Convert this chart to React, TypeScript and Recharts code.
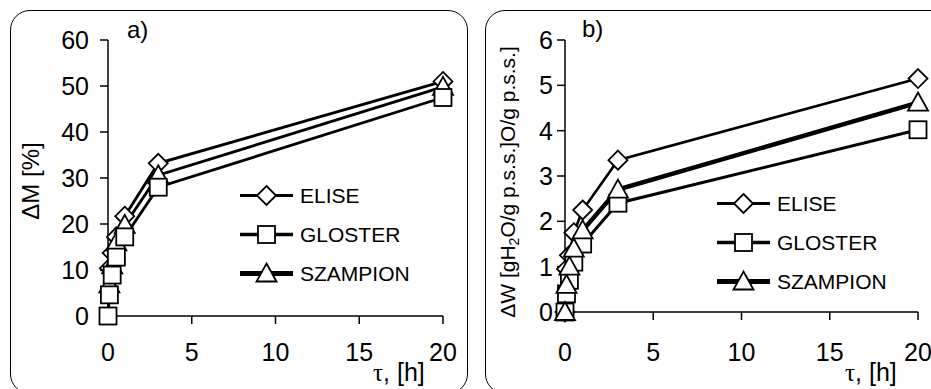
import React from "react";
import { LineChart, Line, XAxis, YAxis, Legend } from "recharts";

// sampling times [h]
const TIME = [0, 0.083, 0.25, 0.5, 1, 3, 20];

// a) mass change dM [%]
const ELISE_A = [null, 10.4, 13.7, 17.2, 21.7, 33.2, 51.0];
const GLOSTER_A = [0, 4.6, 8.9, 12.8, 17.2, 28.0, 47.5];
const SZAMPION_A = [null, 6.9, 11.0, 16.0, 19.8, 30.6, 49.8];

// b) water gain dW
const ELISE_B = [0, 0.95, 1.25, 1.75, 2.25, 3.35, 5.15];
const GLOSTER_B = [0, 0.4, 0.7, 1.1, 1.5, 2.4, 4.02];
const SZAMPION_B = [0, 0.6, 1.0, 1.4, 1.8, 2.7, 4.62];

const X_TICKS = [0, 5, 10, 15, 20];
const Y_TICKS_A = [0, 10, 20, 30, 40, 50, 60];
const Y_TICKS_B = [0, 1, 2, 3, 4, 5, 6];

const SERIES = ["ELISE", "GLOSTER", "SZAMPION"];

const FONT = '"Liberation Sans", Arial, sans-serif';

const dataA = TIME.map((t, i) => ({ t, elise: ELISE_A[i], gloster: GLOSTER_A[i], szampion: SZAMPION_A[i] }));
const dataB = TIME.map((t, i) => ({ t, elise: ELISE_B[i], gloster: GLOSTER_B[i], szampion: SZAMPION_B[i] }));

function Diamond({ cx, cy }: any) {
  if (cx == null || cy == null) return <g />;
  const r = 9.5;
  return <path d={`M${cx},${cy - r}L${cx + r},${cy}L${cx},${cy + r}L${cx - r},${cy}Z`} fill="#fff" stroke="#000" strokeWidth={1.8} />;
}

function Square({ cx, cy }: any) {
  if (cx == null || cy == null) return <g />;
  return <rect x={cx - 8.5} y={cy - 8.5} width={17} height={17} fill="#fff" stroke="#000" strokeWidth={1.8} />;
}

function Triangle({ cx, cy }: any) {
  if (cx == null || cy == null) return <g />;
  return <path d={`M${cx},${cy - 10}L${cx + 10},${cy + 8}L${cx - 10},${cy + 8}Z`} fill="#fff" stroke="#000" strokeWidth={1.8} />;
}

const MARKERS: any = { ELISE: Diamond, GLOSTER: Square, SZAMPION: Triangle };
const WIDTHS: any = { ELISE: 2.6, GLOSTER: 3, SZAMPION: 4.5 };

function LegendBox() {
  return (
    <div style={{ fontFamily: FONT, fontSize: 21, color: "#000" }}>
      {SERIES.map((name) => {
        const M = MARKERS[name];
        return (
          <div key={name} style={{ display: "flex", alignItems: "center", height: 39 }}>
            <svg width={53} height={39} style={{ overflow: "visible" }}>
              <line x1={0} x2={53} y1={19.5} y2={19.5} stroke="#000" strokeWidth={WIDTHS[name] + 0.5} />
              <M cx={26.5} cy={19.5} />
            </svg>
            <span style={{ marginLeft: 7, lineHeight: 1 }}>{name}</span>
          </div>
        );
      })}
    </div>
  );
}

function TitleA() {
  return (
    <g fontFamily={FONT} fill="#000">
      <text transform="translate(39,181) rotate(-90)" textAnchor="middle" fontSize={24}>ΔM [%]</text>
      <text x={127} y={38} fontSize={24}>a)</text>
    </g>
  );
}

function TitleB() {
  return (
    <g fontFamily={FONT} fill="#000">
      <text transform="translate(50,182) rotate(-90)" textAnchor="middle" fontSize={21}>
        <tspan>ΔW [gH</tspan>
        <tspan fontSize={14} dy={4}>2</tspan>
        <tspan dy={-4}>O/g p.s.s.]O/g p.s.s.]</tspan>
      </text>
      <text x={117} y={37} fontSize={24}>b)</text>
    </g>
  );
}

function TauLabel({ left }: any) {
  return (
    <text x={left} y={381} fontSize={25} fontFamily={FONT} fill="#000">
      <tspan fontFamily='"Liberation Serif", serif'>τ</tspan>
      <tspan>, [h]</tspan>
    </text>
  );
}

const tick = { fill: "#000", fontSize: 25, fontFamily: FONT };
const axisLine = { stroke: "#000", strokeWidth: 1.5 };
const tickLine = { stroke: "#000", strokeWidth: 1.5 };

function series(order: string[], a: boolean) {
  return order.map((name) => {
    const M = MARKERS[name];
    return (
      <Line
        key={name}
        type="linear"
        dataKey={name.toLowerCase()}
        stroke="#000"
        strokeWidth={a ? 2.8 : WIDTHS[name]}
        connectNulls={false}
        dot={(p: any) => <M key={`${name}-${p.index}`} cx={p.cx} cy={p.cy} />}
        activeDot={false}
        isAnimationActive={false}
      />
    );
  });
}

export default function App() {
  return (
    <div style={{ position: "absolute", left: 0, top: 0, width: 931, height: 389, background: "#fff", overflow: "hidden" }}>
      <div style={{ position: "absolute", left: 10, top: 10, width: 456, height: 382, border: "1px solid #000", borderRadius: 20 }} />
      <div style={{ position: "absolute", left: 485, top: 10, width: 470, height: 382, border: "1px solid #000", borderRadius: 20 }} />

      <div style={{ position: "absolute", left: 0, top: 0 }}>
        <LineChart width={470} height={389} data={dataA} margin={{ top: 40, right: 27, bottom: 0, left: 0 }}>
          <XAxis
            type="number"
            dataKey="t"
            domain={[0, 20]}
            ticks={X_TICKS}
            height={73}
            tick={tick}
            tickSize={8}
            tickMargin={19}
            axisLine={axisLine}
            tickLine={tickLine}
            label={<TauLabel left={373} />}
          />
          <YAxis
            type="number"
            domain={[0, 60]}
            ticks={Y_TICKS_A}
            width={108}
            tick={tick}
            tickSize={8}
            tickMargin={11}
            axisLine={axisLine}
            tickLine={tickLine}
            label={<TitleA />}
          />
          <Legend layout="vertical" align="center" verticalAlign="middle" content={() => <LegendBox />} wrapperStyle={{ left: 240, top: 175.5, width: 220 }} />
          {series(["ELISE", "SZAMPION", "GLOSTER"], true)}
        </LineChart>
      </div>

      <div style={{ position: "absolute", left: 465, top: 0 }}>
        <LineChart width={466} height={389} data={dataB} margin={{ top: 40, right: 13, bottom: 0, left: 0 }}>
          <XAxis
            type="number"
            dataKey="t"
            domain={[0, 20]}
            ticks={X_TICKS}
            height={77}
            tick={tick}
            tickSize={8}
            tickMargin={23}
            axisLine={axisLine}
            tickLine={tickLine}
            label={<TauLabel left={380} />}
          />
          <YAxis
            type="number"
            domain={[0, 6]}
            ticks={Y_TICKS_B}
            width={100}
            tick={tick}
            tickSize={8}
            tickMargin={4}
            axisLine={axisLine}
            tickLine={tickLine}
            label={<TitleB />}
          />
          <Legend layout="vertical" align="center" verticalAlign="middle" content={() => <LegendBox />} wrapperStyle={{ left: 252, top: 183.5, width: 200 }} />
          {series(["ELISE", "GLOSTER", "SZAMPION"], false)}
        </LineChart>
      </div>
    </div>
  );
}
